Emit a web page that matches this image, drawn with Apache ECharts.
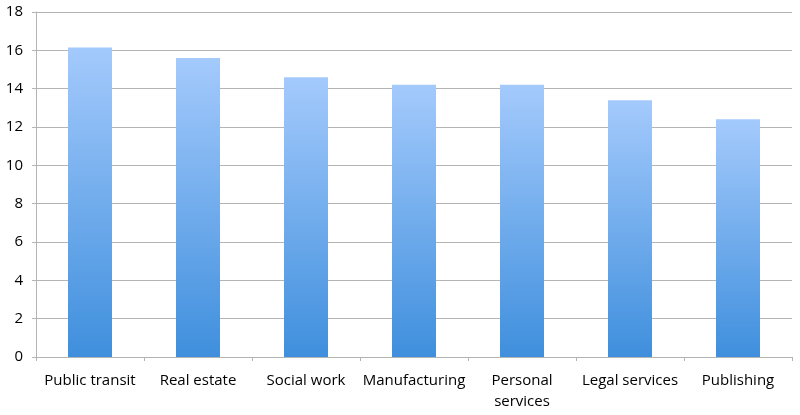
<!DOCTYPE html>
<html><head><meta charset="utf-8">
<script src="https://cdn.jsdelivr.net/npm/echarts@6/dist/echarts.min.js"></script>
<style>html,body{margin:0;padding:0;background:#fff}#c{width:800px;height:415px}</style>
</head><body><div id="c"></div>
<script>
const categories = ["Public transit", "Real estate", "Social work", "Manufacturing", "Personal\nservices", "Legal services", "Publishing"];
const values = [16.15, 15.6, 14.6, 14.2, 14.2, 13.4, 12.4];
const yTicks = [0, 2, 4, 6, 8, 10, 12, 14, 16, 18];

const chart = echarts.init(document.getElementById('c'), null, {renderer: 'canvas'});
chart.setOption({
  animation: false,
  grid: {left: 36, right: 8, top: 12, bottom: 58, containLabel: false},
  xAxis: {
    type: 'category', data: categories,
    axisLine: {lineStyle: {color: '#b4b4b4', width: 1}},
    axisTick: {show: true, length: 4, lineStyle: {color: '#b4b4b4'}},
    axisLabel: {color: '#000', fontFamily: 'Open Sans', fontSize: 15, margin: 13, interval: 0, lineHeight: 21}
  },
  yAxis: {
    type: 'value', min: yTicks[0], max: yTicks[yTicks.length - 1], interval: 2,
    axisLine: {show: true, lineStyle: {color: '#b4b4b4'}},
    axisTick: {show: true, length: 4, lineStyle: {color: '#b4b4b4'}},
    splitLine: {lineStyle: {color: '#b4b4b4', width: 1}},
    axisLabel: {color: '#000', fontFamily: 'Open Sans', fontSize: 15, margin: 13}
  },
  series: [{
    type: 'bar', data: values, barWidth: 44,
    itemStyle: {
      color: new echarts.graphic.LinearGradient(0, 0, 0, 1, [
        {offset: 0, color: '#a4cafc'},
        {offset: 1, color: '#3f8fdd'}
      ])
    }
  }]
});
</script></body></html>
